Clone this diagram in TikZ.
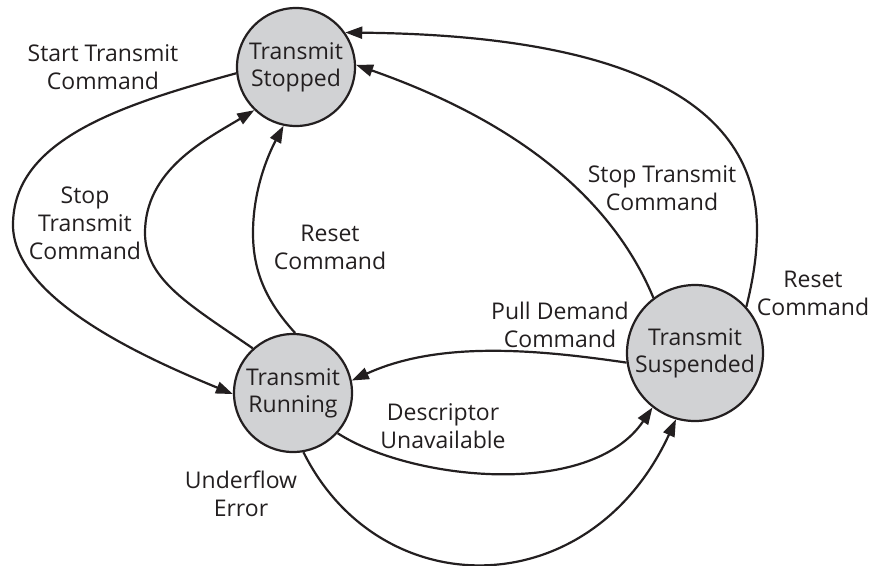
\documentclass[tikz,border=0pt]{standalone}
\usepackage{fontspec}
\setmainfont{Open Sans}
\usetikzlibrary{arrows.meta}
\definecolor{ink}{HTML}{231F20}
\definecolor{statefill}{HTML}{D1D2D4}
\begin{document}
\begin{tikzpicture}[x=1pt,y=-1pt,
  state/.style={circle,draw=ink,fill=statefill,line width=2.2pt,minimum size=118pt,
    inner sep=0pt,align=center,font=\fontsize{23}{27}\selectfont,text=ink},
  lbl/.style={align=center,inner sep=0pt,font=\fontsize{23}{28}\selectfont,text=ink},
  trans/.style={draw=ink,line width=2.2pt,-{Triangle[length=17pt,width=12pt]}}]
\path[use as bounding box] (0,0) rectangle (874,565);

% states
\node[state] (stopped) at (296,67) {Transmit\\Stopped};
\node[state] (running) at (293,393) {Transmit\\Running};
\node[state,minimum size=136pt] (suspended) at (695,353) {Transmit\\Suspended};

% transitions into Transmit Running
\draw[trans] (stopped.186) .. controls (120,105) and (13,140) .. (13,225)
  .. controls (13,300) and (150,360) .. (running.181);
\draw[trans] (suspended.188) .. controls (540,350) and (440,340) .. (running.12);

% transitions into Transmit Stopped
\draw[trans] (running.132) .. controls (190,305) and (145,280) .. (145,233)
  .. controls (145,170) and (205,140) .. (stopped.226);
\draw[trans] (running.88) .. controls (265,300) and (253,270) .. (253,233)
  .. controls (253,190) and (268,155) .. (stopped.258);
\draw[trans] (suspended.127) .. controls (600,170) and (470,105) .. (stopped.2);
\draw[trans] (suspended.42) .. controls (753,280) and (757,255) .. (757,230)
  .. controls (757,90) and (600,35) .. (stopped.35);

% transitions into Transmit Suspended
\draw[trans] (running.-42) .. controls (410,480) and (590,500) .. (suspended.232);
\draw[trans] (running.-80) .. controls (380,606) and (590,606) .. (suspended.254);

% labels
\node[lbl] (lstart) at (103,67) {Start Transmit\\Command};
\node[lbl] (lstopl) at (85,223) {Stop\\Transmit\\Command};
\node[lbl] (lresetl) at (330,247) {Reset\\Command};
\node[lbl] (lstopr) at (662,188) {Stop Transmit\\Command};
\node[lbl] (lresetr) at (813,293) {Reset\\Command};
\node[lbl] (lpull) at (560,325) {Pull Demand\\Command};
\node[lbl] (ldesc) at (443,426) {Descriptor\\Unavailable};
\node[lbl] (lunder) at (241,494) {Underflow\\Error};
\end{tikzpicture}
\end{document}
